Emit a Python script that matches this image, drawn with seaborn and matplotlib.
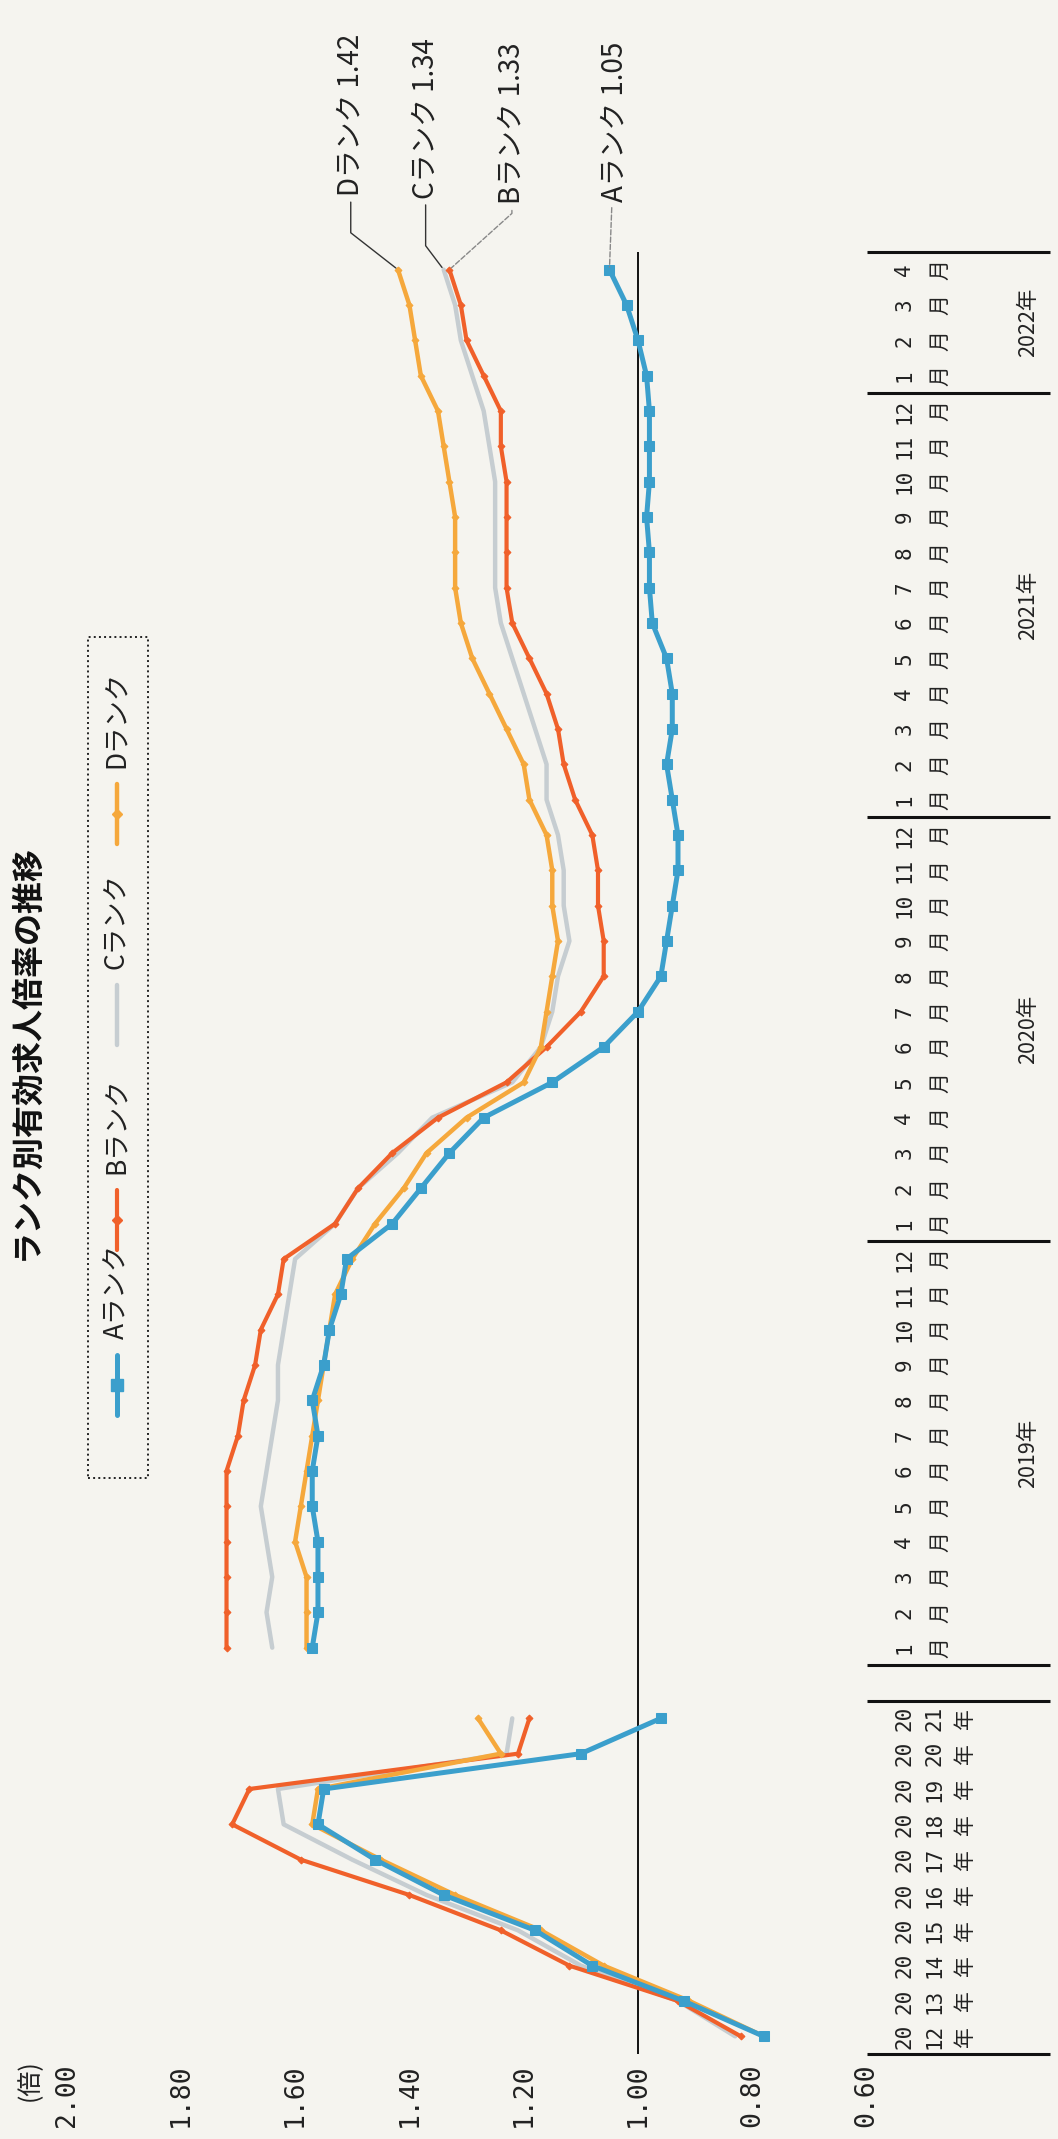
import numpy as np
import pandas as pd
import seaborn as sns
import matplotlib.pyplot as plt
from matplotlib.lines import Line2D
from matplotlib.patches import Rectangle
from matplotlib.transforms import blended_transform_factory

# ---- data ----
years = ['2012', '2013', '2014', '2015', '2016', '2017', '2018', '2019', '2020', '2021']
month_nums = list(range(1, 13)) * 3 + [1, 2, 3, 4]
month_years = ['2019'] * 12 + ['2020'] * 12 + ['2021'] * 12 + ['2022'] * 4
ranks = ['Aランク', 'Bランク', 'Cランク', 'Dランク']

a_year = [0.78, 0.92, 1.08, 1.18, 1.34, 1.46, 1.56, 1.55, 1.10, 0.96]
b_year = [0.82, 0.93, 1.12, 1.24, 1.40, 1.59, 1.71, 1.68, 1.21, 1.19]
c_year = [0.83, 0.93, 1.10, 1.21, 1.37, 1.50, 1.62, 1.63, 1.23, 1.22]
d_year = [0.78, 0.91, 1.06, 1.17, 1.32, 1.45, 1.57, 1.56, 1.24, 1.28]

a_month = [1.57, 1.56, 1.56, 1.56, 1.57, 1.57, 1.56, 1.57, 1.55, 1.54, 1.52, 1.51,
           1.43, 1.38, 1.33, 1.27, 1.15, 1.06, 1.00, 0.96, 0.95, 0.94, 0.93, 0.93,
           0.94, 0.95, 0.94, 0.94, 0.95, 0.975, 0.98, 0.98, 0.985, 0.98, 0.98, 0.98,
           0.985, 1.00, 1.02, 1.05]
b_month = [1.72, 1.72, 1.72, 1.72, 1.72, 1.72, 1.70, 1.69, 1.67, 1.66, 1.63, 1.62,
           1.53, 1.49, 1.43, 1.35, 1.23, 1.16, 1.10, 1.06, 1.06, 1.07, 1.07, 1.08,
           1.11, 1.13, 1.14, 1.16, 1.19, 1.22, 1.23, 1.23, 1.23, 1.23, 1.24, 1.24,
           1.27, 1.30, 1.31, 1.33]
c_month = [1.64, 1.65, 1.64, 1.65, 1.66, 1.65, 1.64, 1.63, 1.63, 1.62, 1.61, 1.60,
           1.53, 1.49, 1.42, 1.36, 1.22, 1.17, 1.15, 1.14, 1.12, 1.13, 1.13, 1.14,
           1.16, 1.16, 1.18, 1.20, 1.22, 1.24, 1.25, 1.25, 1.25, 1.25, 1.26, 1.27,
           1.29, 1.31, 1.32, 1.34]
d_month = [1.58, 1.58, 1.58, 1.60, 1.59, 1.58, 1.57, 1.56, 1.55, 1.54, 1.53, 1.50,
           1.46, 1.41, 1.37, 1.30, 1.20, 1.17, 1.16, 1.15, 1.14, 1.15, 1.15, 1.16,
           1.19, 1.20, 1.23, 1.26, 1.29, 1.31, 1.32, 1.32, 1.32, 1.33, 1.34, 1.35,
           1.38, 1.39, 1.40, 1.42]

value_ticks = [2.00, 1.80, 1.60, 1.40, 1.20, 1.00, 0.80, 0.60]

year_vals = {'Aランク': a_year, 'Bランク': b_year, 'Cランク': c_year, 'Dランク': d_year}
month_vals = {'Aランク': a_month, 'Bランク': b_month, 'Cランク': c_month, 'Dランク': d_month}

# category positions: 10 years, one empty slot, 40 months
year_pos = list(range(len(years)))
month_pos = [len(years) + 1 + i for i in range(len(month_nums))]
n_cat = len(years) + 1 + len(month_nums)

rows = []
for r in ranks:
    for p, v in zip(year_pos, year_vals[r]):
        rows.append((r, 'year', p, v))
    for p, v in zip(month_pos, month_vals[r]):
        rows.append((r, 'month', p, v))
df = pd.DataFrame(rows, columns=['rank', 'seg', 'pos', 'value'])

# ---- style ----
sns.set_theme(style='white')
plt.rcParams['font.family'] = ['Noto Sans CJK JP', 'DejaVu Sans']
mono = ['DejaVu Sans Mono', 'Noto Sans CJK JP']
paper = '#f5f4ef'

W, H = 1058, 2139
def fx(x):
    return x / W
def fy(y):
    return 1 - y / H

fig = plt.figure(figsize=(W / 100, H / 100), dpi=100, facecolor=paper)
ax = fig.add_axes([fx(66.5), fy(2054), 800.1 / W, 1802 / H])
ax.set_facecolor('none')

styles = {
    'Aランク': dict(color='#3b9fcc', lw=3.6, marker='s', markersize=6.5),
    'Bランク': dict(color='#f0602a', lw=3.0, marker='D', markersize=3.5),
    'Cランク': dict(color='#c6cdd1', lw=3.2),
    'Dランク': dict(color='#f5a83c', lw=3.2, marker='D', markersize=3.5),
}

ax.axvline(1.0, color='#111111', lw=1.4, zorder=1)

for r in ['Cランク', 'Bランク', 'Dランク', 'Aランク']:
    st = dict(styles[r])
    if 'marker' in st:
        st['markeredgecolor'] = st['color']
    sns.lineplot(data=df[df['rank'] == r], x='value', y='pos', units='seg',
                 estimator=None, orient='y', sort=True, ax=ax, zorder=3, **st)

ax.set_xlim(2.0, 0.6)
ax.set_ylim(-0.5, n_cat - 0.5)
ax.set_xlabel('')
ax.set_ylabel('')
sns.despine(ax=ax, left=True, bottom=True)

ax.set_xticks(value_ticks)
ax.set_xticklabels([f'{v:.2f}' for v in value_ticks], rotation=90,
                   fontsize=19, family=mono, color='#222222')
ax.tick_params(axis='x', length=0, pad=7)

tick_pos = year_pos + month_pos
tick_lab = [y[:2] + '\n' + y[2:] + '\n年' for y in years] + [f'{m}\n月' for m in month_nums]
ax.yaxis.tick_right()
ax.set_yticks(tick_pos)
ax.set_yticklabels(tick_lab, rotation=90, fontsize=15, family=mono, color='#222222')
ax.tick_params(axis='y', length=0, pad=20)
for t in ax.get_yticklabels():
    t.set_ha('left')
    t.set_va('center')
    t.set_multialignment('center')
    t.set_linespacing(1.65 if '年' in t.get_text() else 2.0)

# multi-level category separators and year group labels
tr = blended_transform_factory(ax.transAxes, ax.transData)
x_end = (1050 - 66.5) / 800.1
bounds = [year_pos[0] - 0.5, year_pos[-1] + 0.5, month_pos[0] - 0.5]
for yname in ['2019', '2020', '2021', '2022']:
    ps = [p for p, my in zip(month_pos, month_years) if my == yname]
    bounds.append(ps[-1] + 0.5)
    ax.text((1028 - 66.5) / 800.1, np.mean(ps), f'{yname}年', transform=tr,
            rotation=90, ha='center', va='center', fontsize=15.5, color='#222222')
for b in bounds:
    ax.plot([1, x_end], [b, b], transform=tr, color='#111111', lw=2.2,
            clip_on=False, solid_capstyle='butt')

# end-point labels with leader lines
last = {r: month_vals[r][-1] for r in ranks}
end_cfg = {
    'Dランク': ((-34, 53), 'angle,angleA=90,angleB=-38,rad=0', '#333333', '-'),
    'Cランク': ((-13, 51), 'angle,angleA=90,angleB=-53,rad=0', '#333333', '-'),
    'Bランク': ((45, 47), 'angle,angleA=90,angleB=42,rad=0', '#888888', '--'),
    'Aランク': ((4, 49), 'arc3', '#888888', '--'),
}
for r in ['Dランク', 'Cランク', 'Bランク', 'Aランク']:
    off, cs, lc, ls = end_cfg[r]
    ax.annotate(f'{r[0]}ランク {last[r]:.2f}', xy=(last[r], month_pos[-1]),
                xytext=off, textcoords='offset points', rotation=90,
                ha='center', va='bottom', fontsize=20, color='#222222',
                annotation_clip=False,
                arrowprops=dict(arrowstyle='-', connectionstyle=cs, color=lc,
                                lw=1.0, ls=ls, shrinkA=2, shrinkB=2))

# title, unit, legend
fig.text(fx(27), fy(1052), 'ランク別有効求人倍率の推移', rotation=90, ha='center',
         va='center', fontsize=23, fontweight='bold', color='#111111')
fig.text(fx(30), fy(2080), '(倍)', rotation=90, ha='center', va='center',
         fontsize=18, color='#222222')

fig.add_artist(Rectangle((fx(88), fy(1478)), 60 / W, (1478 - 637) / H,
                         transform=fig.transFigure, fill=False, ec='#222222',
                         lw=1.4, ls=':'))
leg_y = {'Aランク': 1385, 'Bランク': 1220, 'Cランク': 1015, 'Dランク': 814}
for r in ranks:
    yc = leg_y[r]
    st = styles[r]
    fig.add_artist(Line2D([fx(117)] * 3, [fy(yc + 30), fy(yc), fy(yc - 30)],
                          transform=fig.transFigure, color=st['color'], lw=st['lw'],
                          marker=st.get('marker', None), markevery=[1],
                          markersize=st.get('markersize', 0) + 1.5,
                          markeredgecolor=st['color']))
    fig.text(fx(117), fy(yc - 46), r, rotation=90, ha='center', va='bottom',
             fontsize=19, color='#222222')

fig.savefig('out.png', dpi=100, facecolor=paper)
